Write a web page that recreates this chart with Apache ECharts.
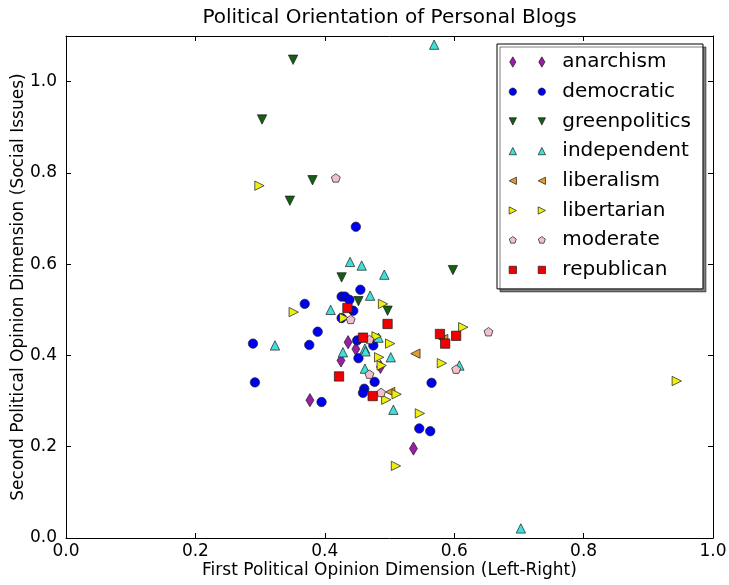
<!DOCTYPE html>
<html>
<head>
<meta charset="utf-8">
<script src="https://cdn.jsdelivr.net/npm/echarts@6/dist/echarts.min.js"></script>
<style>
  html, body { margin: 0; padding: 0; background: #fff; }
  #chart { width: 729px; height: 585px; }
</style>
</head>
<body>
<div id="chart"></div>
<script>
// Blog positions: [first dimension (left-right), second dimension (social issues)]
const anarchism = [
  [0.436, 0.429], [0.448, 0.414], [0.425, 0.389], [0.486, 0.375],
  [0.377, 0.302], [0.537, 0.196]
];
const democratic = [
  [0.448, 0.682], [0.455, 0.544], [0.426, 0.529], [0.431, 0.529],
  [0.438, 0.522], [0.369, 0.513], [0.444, 0.498], [0.426, 0.482],
  [0.389, 0.452], [0.450, 0.433], [0.376, 0.423], [0.475, 0.422],
  [0.452, 0.394], [0.477, 0.342], [0.565, 0.340], [0.461, 0.327],
  [0.459, 0.318], [0.395, 0.298], [0.546, 0.240], [0.563, 0.234],
  [0.289, 0.426], [0.292, 0.341]
];
const greenpolitics = [
  [0.351, 1.048], [0.303, 0.917], [0.381, 0.784], [0.346, 0.739],
  [0.426, 0.571], [0.598, 0.587], [0.452, 0.519], [0.497, 0.498]
];
const independent = [
  [0.569, 1.081], [0.439, 0.605], [0.457, 0.597], [0.492, 0.577],
  [0.470, 0.531], [0.409, 0.500], [0.483, 0.439], [0.323, 0.422],
  [0.462, 0.415], [0.463, 0.409], [0.428, 0.407], [0.502, 0.396],
  [0.462, 0.371], [0.608, 0.378], [0.506, 0.281], [0.703, 0.021]
];
const liberalism = [
  [0.540, 0.404], [0.583, 0.436], [0.501, 0.320]
];
const libertarian = [
  [0.299, 0.772], [0.490, 0.513], [0.352, 0.495], [0.430, 0.482],
  [0.480, 0.442], [0.501, 0.426], [0.484, 0.396], [0.488, 0.378],
  [0.614, 0.462], [0.581, 0.383], [0.511, 0.315], [0.495, 0.303],
  [0.547, 0.273], [0.510, 0.158], [0.944, 0.344]
];
const moderate = [
  [0.417, 0.788], [0.440, 0.478], [0.469, 0.434], [0.469, 0.358],
  [0.487, 0.318], [0.603, 0.369], [0.653, 0.451]
];
const republican = [
  [0.435, 0.504], [0.497, 0.469], [0.459, 0.439], [0.422, 0.354],
  [0.474, 0.311], [0.578, 0.447], [0.603, 0.443], [0.586, 0.426]
];

const xTickStep = 0.2;
const yTickStep = 0.2;

// Marker outlines in units of half a marker width (SVG y points down)
const pentagonPts = [];
for (let k = 0; k < 5; k++) {
  const a = -Math.PI / 2 + k * 2 * Math.PI / 5;
  pentagonPts.push([Math.cos(a), Math.sin(a)]);
}
const circlePts = [];
for (let k = 0; k < 40; k++) {
  const a = k * 2 * Math.PI / 40;
  circlePts.push([Math.cos(a), Math.sin(a)]);
}
const SHAPES = {
  diamond: [[0, -1.414], [0.849, 0], [0, 1.414], [-0.849, 0]],
  circle: circlePts,
  triDown: [[0, 1], [-1, -1], [1, -1]],
  triUp: [[0, -1], [-1, 1], [1, 1]],
  triLeft: [[-1, 0], [1, -1], [1, 1]],
  triRight: [[1, 0], [-1, -1], [-1, 1]],
  pentagon: pentagonPts,
  square: [[-1, -1], [1, -1], [1, 1], [-1, 1]]
};
function shapePath(kind, dx) {
  return 'M' + SHAPES[kind]
    .map(p => (p[0] + dx).toFixed(3) + ',' + p[1].toFixed(3))
    .join(' L') + ' Z ';
}
// Bare move-to points fix every marker's bounding box, so all shapes share one scale
const MARK_FRAME = 'M-1.5,-1.5 M1.5,1.5 ';
const KEY_FRAME = 'M-1.5,-1.5 M12.2,1.5 ';
const KEY_GAP = 7.95;

const groups = [
  { name: 'anarchism', data: anarchism, color: '#9a1fa5', shape: 'diamond' },
  { name: 'democratic', data: democratic, color: '#0000f0', shape: 'circle' },
  { name: 'greenpolitics', data: greenpolitics, color: '#155f15', shape: 'triDown' },
  { name: 'independent', data: independent, color: '#3fe0dc', shape: 'triUp' },
  { name: 'liberalism', data: liberalism, color: '#e39b2a', shape: 'triLeft' },
  { name: 'libertarian', data: libertarian, color: '#eeee11', shape: 'triRight' },
  { name: 'moderate', data: moderate, color: '#f0c0cc', shape: 'pentagon' },
  { name: 'republican', data: republican, color: '#f00000', shape: 'square' }
];

const FONT = 'DejaVu Sans';
const fmt = v => v.toFixed(1);

const chart = echarts.init(document.getElementById('chart'), null, { renderer: 'canvas' });

const axisCommon = {
  type: 'value',
  axisLine: { show: true, onZero: false, lineStyle: { color: '#000', width: 1 } },
  axisTick: { show: true, inside: true, length: 5, lineStyle: { color: '#000', width: 1 } },
  splitLine: { show: false }
};

chart.setOption({
  animation: false,
  backgroundColor: '#fff',
  title: {
    text: 'Political Orientation of Personal Blogs',
    left: 389.5,
    top: 7.5,
    padding: 0,
    textAlign: 'center',
    textStyle: { fontFamily: FONT, fontSize: 20, fontWeight: 'normal', color: '#000' }
  },
  grid: { left: 66, top: 36, width: 647, height: 502, containLabel: false, outerBoundsMode: 'none' },
  xAxis: [
    Object.assign({}, axisCommon, {
      position: 'bottom', min: 0, max: 1, interval: xTickStep,
      name: 'First Political Opinion Dimension (Left-Right)',
      nameLocation: 'middle', nameGap: 24, nameMoveOverlap: false,
      nameTextStyle: { fontFamily: FONT, fontSize: 17, color: '#000' },
      axisLabel: { fontFamily: FONT, fontSize: 17, color: '#000', margin: 5, formatter: fmt }
    }),
    Object.assign({}, axisCommon, {
      position: 'top', min: 0, max: 1, interval: xTickStep,
      axisLabel: { show: false }
    })
  ],
  yAxis: [
    Object.assign({}, axisCommon, {
      position: 'left', min: 0, max: 1.1, interval: yTickStep,
      name: 'Second Political Opinion Dimension (Social Issues)',
      nameLocation: 'middle', nameGap: 39, nameMoveOverlap: false,
      nameTextStyle: { fontFamily: FONT, fontSize: 17, color: '#000' },
      axisLabel: { fontFamily: FONT, fontSize: 17, color: '#000', margin: 9, formatter: fmt, showMaxLabel: false }
    }),
    Object.assign({}, axisCommon, {
      position: 'right', min: 0, max: 1.1, interval: yTickStep,
      axisLabel: { show: false }
    })
  ],
  legend: {
    orient: 'vertical',
    left: 497,
    top: 44,
    padding: [8, 12, 9, 10],
    itemWidth: 50,
    itemHeight: 11,
    itemGap: 9.7,
    selectedMode: false,
    backgroundColor: '#fff',
    borderColor: '#000',
    borderWidth: 1,
    borderRadius: 0,
    shadowColor: 'rgba(0,0,0,0.5)',
    shadowBlur: 0,
    shadowOffsetX: 3,
    shadowOffsetY: 3,
    itemStyle: { borderColor: '#1a1a1a', borderWidth: 0.7, opacity: 1 },
    textStyle: { fontFamily: FONT, fontSize: 20, color: '#000', lineHeight: 20 },
    data: groups.map(g => ({
      name: g.name,
      icon: 'path://' + KEY_FRAME + shapePath(g.shape, 0) + shapePath(g.shape, KEY_GAP)
    }))
  },
  series: groups.map(g => ({
    type: 'scatter',
    name: g.name,
    data: g.data,
    xAxisIndex: 0,
    yAxisIndex: 0,
    symbol: 'path://' + MARK_FRAME + shapePath(g.shape, 0),
    symbolSize: 14,
    symbolKeepAspect: true,
    silent: true,
    itemStyle: { color: g.color, borderColor: '#1a1a1a', borderWidth: 0.7, opacity: 1 },
    emphasis: { disabled: true }
  }))
});
</script>
</body>
</html>
